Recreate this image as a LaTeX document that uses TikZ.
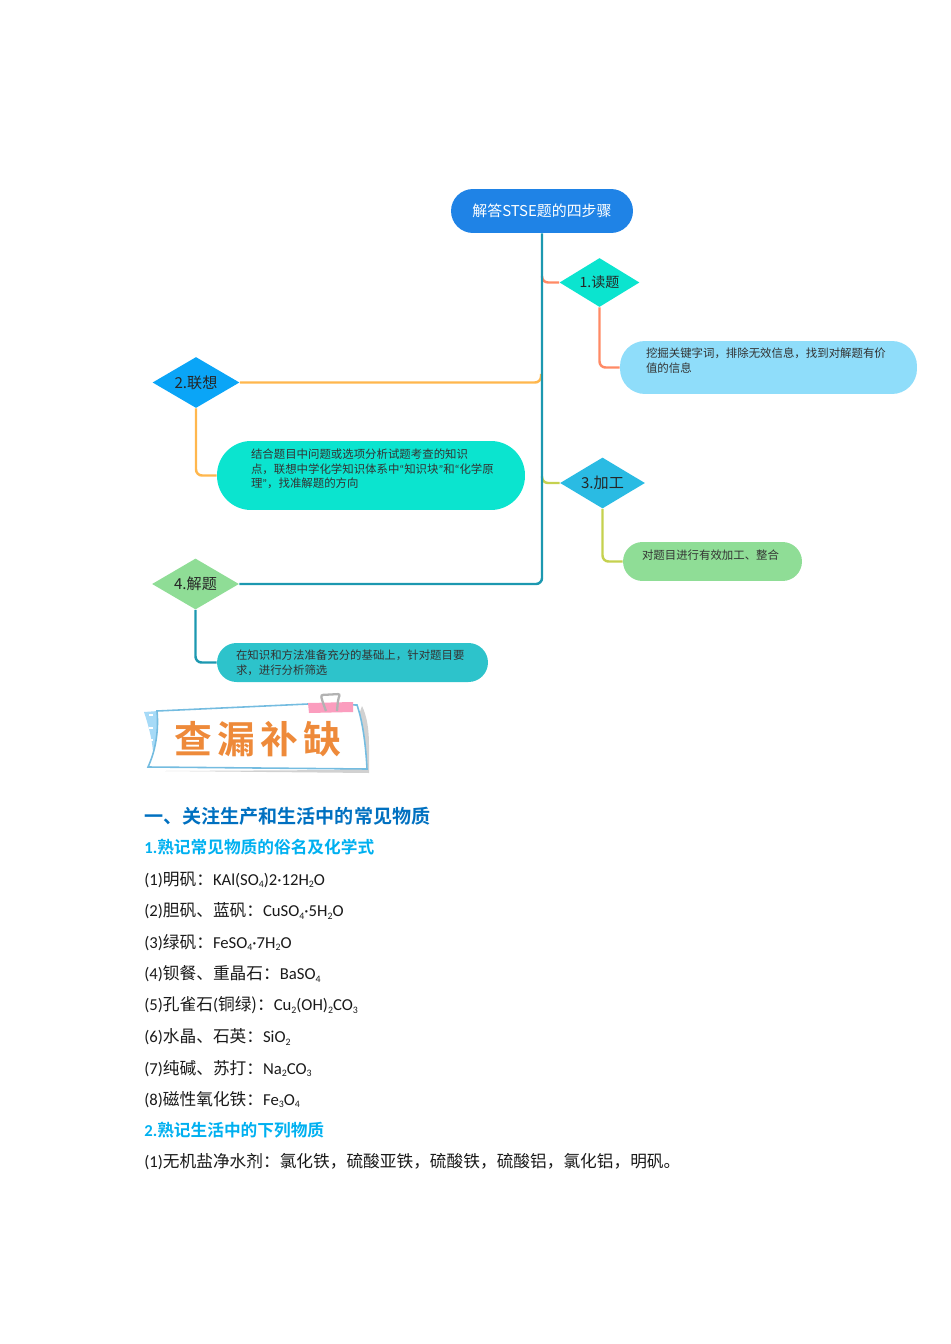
\documentclass[tikz,border=0pt]{standalone}
\usepackage{fontspec}
\usetikzlibrary{shapes.geometric}
\setmainfont{Carlito}
\newfontfamily\zhfont{Noto Sans CJK SC}
\newfontfamily\zhbold{Noto Sans CJK SC Bold}
\newfontfamily\zhwide[LetterSpace=14]{Noto Sans CJK SC Bold}
\newcommand{\zh}[1]{{\zhfont #1}}
\newcommand{\lo}[1]{\raisebox{-0.3ex}{\fontsize{5.6}{6}\selectfont #1}}
\newcommand{\qt}[1]{{\rmfamily #1}}
\newcommand{\num}[1]{{\rmfamily\bfseries #1}}
\definecolor{rootblue}{HTML}{1F83E6}
\definecolor{skyfill}{HTML}{8FDDFA}
\definecolor{mintfill}{HTML}{0BE4CF}
\definecolor{leaffill}{HTML}{8FDD96}
\definecolor{tealfill}{HTML}{2DC3CB}
\definecolor{azurefill}{HTML}{0AA5F7}
\definecolor{cyanfill}{HTML}{2ABBE3}
\definecolor{coralline}{HTML}{FF8A65}
\definecolor{amberline}{HTML}{FFB74D}
\definecolor{oliveline}{HTML}{C5D14F}
\definecolor{trunkline}{HTML}{1C98B0}
\definecolor{headblue}{HTML}{0070C0}
\definecolor{subcyan}{HTML}{00B0F0}
\definecolor{paperline}{HTML}{74BCE0}
\definecolor{tabblue}{HTML}{A6DAF7}
\definecolor{clippink}{HTML}{FB9DBE}
\definecolor{brushorange}{HTML}{EE8A3A}
\begin{document}
\begin{tikzpicture}[
		x=0.02cm, y=-0.02cm,
		stepnode/.style={diamond, aspect=1.65, inner sep=0pt, minimum width=1.74cm, minimum height=1.02cm, font=\zhfont\fontsize{8.6}{10}\selectfont, text=black!85},
		note/.style={rounded corners=0.5cm, inner ysep=0pt, align=left, font=\zhfont\fontsize{6.5}{8.3}\selectfont, text=black!80},
		link/.style={line width=1.4pt, rounded corners=0.12cm},
		headline/.style={anchor=west, inner sep=0pt, text=headblue, font=\zhbold\fontsize{10.85}{13}\selectfont},
		subline/.style={anchor=west, inner sep=0pt, text=subcyan, font=\zhbold\fontsize{9.5}{12}\selectfont},
		bodyline/.style={anchor=west, inner sep=0pt, text=black!90, font=\fontsize{9.5}{12}\selectfont}
	]
	\useasboundingbox (0,0) rectangle (950,1344);

	% Root
	\node[rounded corners=0.44cm, fill=rootblue, text=white, minimum width=3.64cm, minimum height=0.88cm, font=\zhfont\fontsize{8.5}{11}\selectfont] (root) at (542,211) {解答STSE题的四步骤};

	% Steps
	\node[stepnode, fill=mintfill, minimum width=1.6cm, minimum height=0.98cm, font=\zhfont\fontsize{8}{10}\selectfont] (step1) at (599.5,282.5) {1.读题};
	\node[stepnode, fill=azurefill] (step2) at (196,382.5) {2.联想};
	\node[stepnode, fill=cyanfill, minimum width=1.7cm] (step3) at (602.5,483) {3.加工};
	\node[stepnode, fill=leaffill] (step4) at (195.5,584) {4.解题};

	% Notes
	\node[note, fill=skyfill, text width=4.9cm, inner xsep=0.52cm, minimum height=1.06cm] (note1) at (768.5,367.5) {挖掘关键字词，排除无效信息，找到对解题有价\\值的信息\\\mbox{}};
	\node[note, fill=mintfill, rounded corners=0.68cm, text width=4.8cm, inner xsep=0.68cm, minimum height=1.38cm] (note2) at (371,475.5) {结合题目中问题或选项分析试题考查的知识\\点，联想中学化学知识体系中\qt{“}知识块\qt{”}和\qt{“}化学原\\理\qt{”}，找准解题的方向\\\mbox{}};
	\node[note, fill=leaffill, rounded corners=0.39cm, text width=2.82cm, inner xsep=0.38cm, minimum height=0.78cm] (note3) at (712.5,561.5) {对题目进行有效加工、整合\\\mbox{}};
	\node[note, fill=tealfill, rounded corners=0.39cm, text width=4.66cm, inner xsep=0.38cm, minimum height=0.78cm] (note4) at (352.5,662.5) {在知识和方法准备充分的基础上，针对题目要\\求，进行分析筛选};

	% Branch starts on the trunk
	\coordinate (fork1) at (542,276);
	\coordinate (fork2) at (541,374);
	\coordinate (fork3) at (542,476);

	% Connectors
	\draw[link, coralline] (fork1) |- (step1.west);
	\draw[link, amberline] (fork2) |- (step2.east);
	\draw[link, oliveline] (fork3) |- (step3.west);
	\draw[link, trunkline] (root.south) |- (step4.east);
	\draw[link, coralline] (step1.south) |- (note1.west);
	\draw[link, amberline] (step2.south) |- (note2.west);
	\draw[link, oliveline] (step3.south) |- (note3.west);
	\draw[link, trunkline] (step4.south) |- (note4.west);

	% Banner
	\fill[black!18] (340,770) -- (362,706) .. controls (367,716) and (369,730) .. (369,745) -- (369,773) -- (165,771) -- cycle;
	\fill[tabblue] (144,712) -- (158,711) -- (158,754) -- (153,752) .. controls (152,738) and (148,724) .. (144,712) -- cycle;
	\foreach \dy in {714,727,739,750}
		\fill[white] (149,\dy) rectangle (153,\dy+1.5);
	\draw[paperline, fill=white, line width=0.9pt] (157,711) -- (308,704) -- (357,705) .. controls (363,722) and (366,748) .. (367,769) -- (148,767) .. controls (155,752) and (159,732) .. (157,711) -- cycle;
	\node[inner sep=0pt, text=brushorange, font=\zhwide\fontsize{21.5}{24}\selectfont] (bannertext) at (258,739) {查漏补缺};
	\fill[clippink] (308,703) -- (353,702) -- (353,712) -- (309,713) -- cycle;
	\draw[black!30, line width=1.3pt, rounded corners=0.04cm] (326,711) -- (322,700) -- (321,695) -- (340,694) -- (338,700) -- (337,711);

	% Text
	\node[headline] (head1) at (144,816) {一、关注生产和生活中的常见物质};
	\node[subline] (sub1) at (144,847.5) {\num{1.}熟记常见物质的俗名及化学式};
	\node[bodyline] (item1) at (144,879.5) {(1)\zh{明矾：}KAl(SO\lo{4})2·12H\lo{2}O};
	\node[bodyline] (item2) at (144,911) {(2)\zh{胆矾、蓝矾：}CuSO\lo{4}·5H\lo{2}O};
	\node[bodyline] (item3) at (144,942.5) {(3)\zh{绿矾：}FeSO\lo{4}·7H\lo{2}O};
	\node[bodyline] (item4) at (144,974) {(4)\zh{钡餐、重晶石：}BaSO\lo{4}};
	\node[bodyline] (item5) at (144,1005.5) {(5)\zh{孔雀石}(\zh{铜绿}\zh{)：}Cu\lo{2}(OH)\lo{2}CO\lo{3}};
	\node[bodyline] (item6) at (144,1037) {(6)\zh{水晶、石英：}SiO\lo{2}};
	\node[bodyline] (item7) at (144,1068.5) {(7)\zh{纯碱、苏打：}Na\lo{2}CO\lo{3}};
	\node[bodyline] (item8) at (144,1099.5) {(8)\zh{磁性氧化铁：}Fe\lo{3}O\lo{4}};
	\node[subline] (sub2) at (144,1130) {\num{2.}熟记生活中的下列物质};
	\node[bodyline] (item9) at (144,1162) {(1)\zh{无机盐净水剂：氯化铁，硫酸亚铁，硫酸铁，硫酸铝，氯化铝，明矾。}};
\end{tikzpicture}
\end{document}
